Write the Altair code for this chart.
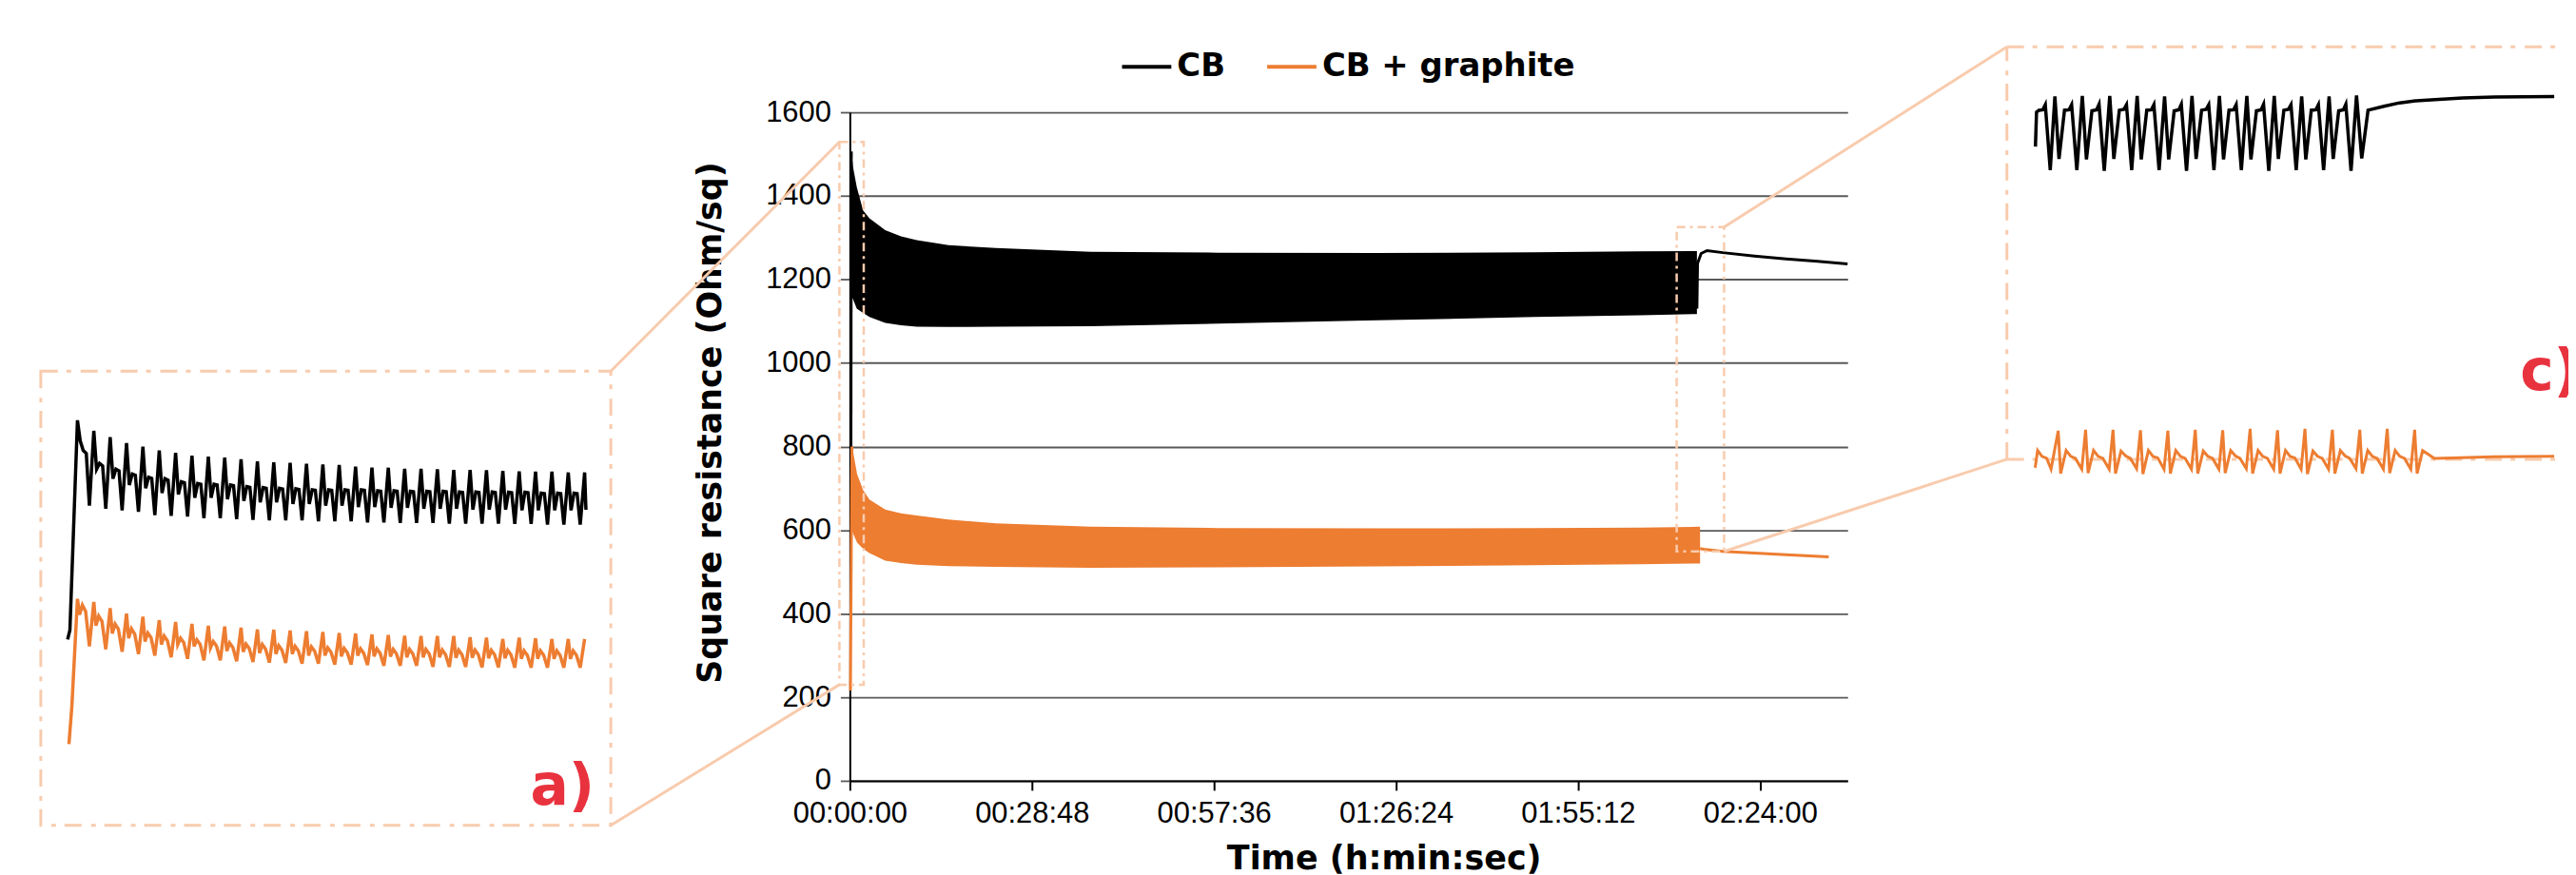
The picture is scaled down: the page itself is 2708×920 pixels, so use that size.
import altair as alt
import pandas as pd

SERIES = ["CB", "CB + graphite"]
COLORS = ["#000000", "#ED7D31"]
PEACH = "#F8CBAD"
RED = "#E8333F"

# ---------------- main chart (time in s, square resistance in Ohm/sq) ----------------
X_TICKS = [0, 1728, 3456, 5184, 6912, 8640]
Y_TICKS = [0, 200, 400, 600, 800, 1000, 1200, 1400, 1600]
X_MAX = 9470

# envelope of the dense oscillation (upper / lower edge of the filled band)
cb_band_t = [15, 30, 66, 126, 186, 336, 486, 636, 936, 1386, 2286, 3500, 5000, 6500, 7500, 8040]
cb_band_hi = [1506, 1470, 1421, 1365, 1346, 1318, 1303, 1294, 1282, 1275, 1266, 1264, 1263, 1265, 1267, 1268]
cb_band_lo = [1160, 1153, 1130, 1120, 1110, 1096, 1090, 1087, 1086, 1087, 1088, 1094, 1102, 1110, 1114, 1117]

gr_band_t = [20, 30, 69, 126, 186, 336, 486, 636, 936, 1386, 2286, 3500, 5000, 6500, 7500, 8070]
gr_band_hi = [800, 790, 734, 696, 673, 649, 640, 635, 625, 616, 608, 605, 604, 605, 606, 608]
gr_band_lo = [600, 592, 570, 555, 545, 527, 521, 517, 514, 512, 510, 511, 513, 516, 518, 520]

# single-valued parts (start and relaxation after cycling)
cb_start_t = [10, 14]
cb_start_v = [633, 1506]
cb_tail_t = [8040, 8046, 8080, 8136, 8286, 8586, 8886, 9186, 9470]
cb_tail_v = [1130, 1238, 1262, 1269, 1264, 1256, 1249, 1243, 1237]
gr_start_t = [6, 20]
gr_start_v = [216, 800]
gr_tail_t = [8070, 8106, 8286, 8586, 8886, 9291]
gr_tail_v = [556, 554, 549, 545, 541, 536]

# zoom windows drawn on the main chart
zoom_t0 = [-99, 7848]
zoom_t1 = [132, 8298]
zoom_v0 = [230, 549]
zoom_v1 = [1529, 1325]

# ---------------- inset a) : start of cycling (x = cycle number) ----------------
A_T = [-2.24, 32.6]      # time range shown in the inset
A_V = [-108, 1703]       # value range shown in the inset
cb_a_start_t = [-0.6, -0.46]
cb_a_start_v = [633, 671]
cb_a_peak = [1507, 1465, 1440, 1416, 1402, 1387, 1377, 1366, 1362, 1358, 1352, 1343, 1339, 1337, 1334, 1331,
             1329, 1322, 1318, 1318, 1314, 1314, 1312, 1309, 1309, 1308, 1305, 1303, 1302, 1302, 1299, 1299]
cb_a_dip = [1425, 1312, 1274, 1249, 1236, 1217, 1211, 1198, 1198, 1192, 1186, 1180, 1180, 1173, 1173, 1167,
            1167, 1161, 1161, 1158, 1158, 1154, 1154, 1154, 1151, 1151, 1151, 1148, 1148, 1148, 1148]
cb_a_sh1 = [1387, 1335, 1312, 1293, 1280, 1274, 1262, 1255, 1252, 1249, 1243, 1239, 1236, 1234, 1230, 1230,
            1230, 1230, 1226, 1226, 1224, 1224, 1224, 1221, 1221, 1221, 1220, 1220, 1217, 1217, 1217]
cb_a_sh2 = [1375, 1325, 1305, 1288, 1275, 1268, 1258, 1252, 1249, 1246, 1240, 1236, 1233, 1231, 1228, 1228,
            1228, 1228, 1224, 1224, 1222, 1222, 1222, 1219, 1219, 1219, 1218, 1218, 1215, 1215, 1215]
cb_a_valley = [1167, 1154, 1148, 1142, 1129, 1126, 1123, 1117, 1117, 1113, 1110, 1108, 1108, 1108, 1104, 1104,
               1104, 1100, 1100, 1098, 1098, 1098, 1095, 1095, 1095, 1095, 1094, 1094, 1091, 1091, 1091]
cb_a_end_t = [31.08]
cb_a_end_v = [1150]
cb_a_frac = [0.17, 0.35, 0.54, 0.73]

gr_a_start_t = [-0.52, -0.34]
gr_a_start_v = [216, 368]
gr_a_peak = [795, 783, 758, 736, 724, 710, 703, 695, 688, 685, 680, 673, 672, 669, 666, 663,
             659, 657, 653, 651, 648, 647, 647, 647, 642, 640, 635, 640, 638, 635, 635, 635]
gr_a_dip = [732, 688, 657, 638, 625, 613, 613, 606, 600, 587, 584, 579, 575, 575, 569, 569,
            566, 569, 566, 565, 562, 562, 562, 560, 560, 558, 558, 556, 556, 556, 556]
gr_a_bump = [770, 726, 695, 676, 659, 647, 638, 632, 625, 619, 615, 613, 609, 606, 604, 600,
             598, 596, 596, 594, 594, 594, 591, 591, 591, 590, 590, 588, 588, 588, 588]
gr_a_decl = [745, 705, 675, 655, 640, 628, 620, 614, 607, 601, 597, 595, 591, 588, 586, 582,
             580, 578, 578, 576, 576, 576, 573, 573, 573, 572, 572, 570, 570, 570, 570]
gr_a_valley = [606, 594, 584, 575, 569, 562, 556, 550, 550, 546, 543, 541, 540, 537, 537, 533,
               533, 531, 528, 528, 528, 524, 524, 524, 522, 522, 521, 521, 521, 521, 521]
gr_a_frac = [0.13, 0.3, 0.5, 0.73]

# ---------------- inset c) : end of cycling (x = cycle number) ----------------
C_T = [-1.75, 18.45]
C_V = [529, 1368]
cb_c_start_t = [-0.71, -0.67, -0.58, -0.44, -0.35, -0.17]
cb_c_start_v = [1165, 1235, 1239, 1240, 1250, 1117]
cb_c_peak = [1267, 1268, 1268, 1268, 1267, 1268, 1268, 1268, 1268, 1267, 1267, 1269]
cb_c_dip = [1140, 1139, 1140, 1139, 1139, 1140, 1139, 1139, 1140, 1139, 1140]
cb_c_sh1 = [1239, 1238, 1239, 1239, 1238, 1239, 1239, 1238, 1239, 1239, 1238]
cb_c_sh2 = [1240, 1240, 1241, 1240, 1240, 1241, 1240, 1240, 1241, 1240, 1240]
cb_c_bump = [1250, 1251, 1250, 1250, 1251, 1250, 1250, 1251, 1250, 1250, 1251]
cb_c_valley = [1117, 1116, 1117, 1117, 1116, 1117, 1117, 1116, 1117, 1117, 1116]
cb_c_frac = [0.15, 0.35, 0.52, 0.61, 0.80]
cb_c_tail_t = [11.19, 11.42, 12.0, 12.57, 13.15, 13.72, 14.87, 16.03, 18.21]
cb_c_tail_v = [1141, 1239, 1247, 1254, 1258, 1260, 1264, 1266, 1267]

gr_c_start_t = [-0.72, -0.63, -0.47, -0.3, -0.14]
gr_c_start_v = [512, 547, 535, 531, 509]
gr_c_peak = [587, 589, 589, 588, 587, 589, 588, 591, 588, 591, 589, 589, 591, 589]
gr_c_valley = [500, 501, 500, 499, 500, 500, 501, 500, 500, 499, 500, 500, 501]
gr_c_bump = [547, 547, 546, 547, 547, 546, 547, 547, 547, 546, 547, 547, 547]
gr_c_decl1 = [535, 535, 536, 535, 535, 535, 536, 535, 535, 535, 536, 535, 535]
gr_c_decl2 = [531, 531, 531, 532, 531, 531, 531, 531, 532, 531, 531, 531, 531]
gr_c_low = [509, 509, 510, 509, 509, 509, 510, 509, 509, 509, 510, 509, 509]
gr_c_frac = [0.09, 0.29, 0.46, 0.63, 0.86]
gr_c_phase = 0.12
gr_c_tail_t = [13.21, 13.41, 13.84, 14.5, 16.0, 18.21]
gr_c_tail_v = [500, 547, 531, 532, 534, 535]

# ---------------- layout (pixels, relative to the main plot area) ----------------
W, H = 1052, 705
A_BOX = (-853, -252, 273, 752)      # left, right, top, bottom of inset a
C_BOX = (1220, 1804, -69, 366)      # left, right, top, bottom of inset c


def cycles(peaks, parts, fracs, phase=0.0):
    ts, vs = [], []
    for k, p in enumerate(peaks):
        ts.append(k + phase)
        vs.append(p)
        if k < len(parts[0]):
            for arr, f in zip(parts, fracs):
                ts.append(k + phase + f)
                vs.append(arr[k])
    return ts, vs


def series_df(t_lists, v_lists):
    t, v = [], []
    for a, b in zip(t_lists, v_lists):
        t += list(a)
        v += list(b)
    return pd.DataFrame({"t": t, "v": v})


def placed(a, b, pa, pb, length):
    """Scale domain so that data a->pixel pa and b->pixel pb on a range [0, length]."""
    k = (b - a) / (pb - pa)
    d0 = a - pa * k
    return [d0, d0 + length * k]


# ---------------- main chart ----------------
xs = alt.Scale(domain=[0, X_MAX], nice=False, zero=False)
ys = alt.Scale(domain=[0, 1600], nice=False, zero=False)
x_axis = alt.Axis(values=X_TICKS, labelExpr="utcFormat(datum.value * 1000, '%H:%M:%S')",
                  title="Time (h:min:sec)", grid=False, domainColor="black", domainWidth=2,
                  tickColor="black", tickWidth=2, tickSize=10, labelFont="Liberation Sans",
                  labelFontSize=31, labelColor="black", labelPadding=10, labelFlush=False,
                  labelOverlap=False, titleFont="DejaVu Sans", titleFontSize=35,
                  titleFontWeight="bold", titleColor="black", titleX=563, titleY=93,
                  titleBaseline="alphabetic", titleAlign="center")
y_axis = alt.Axis(values=Y_TICKS, format="d", title="Square resistance (Ohm/sq)", grid=True,
                  gridColor="#595959", gridWidth=1.8, domainColor="black", domainWidth=2,
                  tickColor="#595959", tickWidth=1.8, tickSize=10, labelFont="Liberation Sans",
                  labelFontSize=31, labelColor="black", labelPadding=10,
                  titleFont="DejaVu Sans", titleFontSize=35, titleFontWeight="bold",
                  titleColor="black", titleX=-136, titleY=327, titleAngle=270,
                  titleBaseline="alphabetic", titleAlign="center")
color_enc = alt.Color("s:N", scale=alt.Scale(domain=SERIES, range=COLORS),
                      legend=alt.Legend(orient="none", legendX=285, legendY=-76,
                                        direction="horizontal", title=None,
                                        symbolType="stroke", symbolSize=2700,
                                        symbolStrokeWidth=4, labelFont="DejaVu Sans",
                                        labelFontWeight="bold", labelFontSize=34,
                                        labelColor="black", labelOffset=4, labelLimit=600,
                                        columnPadding=36))

band_df = pd.DataFrame({
    "t": cb_band_t + gr_band_t,
    "hi": cb_band_hi + gr_band_hi,
    "lo": cb_band_lo + gr_band_lo,
    "s": [SERIES[0]] * len(cb_band_t) + [SERIES[1]] * len(gr_band_t),
})
line_parts = [
    (cb_start_t, cb_start_v, SERIES[0], "cb0"),
    (cb_tail_t, cb_tail_v, SERIES[0], "cb1"),
    (gr_start_t, gr_start_v, SERIES[1], "gr0"),
    (gr_tail_t, gr_tail_v, SERIES[1], "gr1"),
]
rows = []
for ts, vs, s, seg in line_parts:
    for t, v in zip(ts, vs):
        rows.append({"t": t, "v": v, "s": s, "seg": seg})
line_df = pd.DataFrame(rows)
box_df = pd.DataFrame({"t0": zoom_t0, "t1": zoom_t1, "v0": zoom_v0, "v1": zoom_v1})

band = alt.Chart(band_df).mark_area(opacity=1).encode(
    x=alt.X("t:Q", scale=xs, axis=x_axis),
    y=alt.Y("hi:Q", scale=ys, axis=y_axis),
    y2="lo:Q",
    color=color_enc,
)
lines = alt.Chart(line_df).mark_line(strokeWidth=3).encode(
    x=alt.X("t:Q", scale=xs, axis=None),
    y=alt.Y("v:Q", scale=ys, axis=None),
    color=color_enc,
    detail="seg:N",
)
boxes = alt.Chart(box_df).mark_rect(fillOpacity=0, stroke=PEACH, strokeWidth=2.5,
                                    strokeDash=[9, 5, 3, 5]).encode(
    x=alt.X("t0:Q", scale=xs, axis=None),
    x2="t1:Q",
    y=alt.Y("v0:Q", scale=ys, axis=None),
    y2="v1:Q",
)

# connector lines: from zoom-window corners (data) to inset corners (pixels)
conn_t = [-99, -99, 8298, 8298]
conn_v = [1529, 230, 1325, 549]
conn_end = [(A_BOX[1], A_BOX[2]), (A_BOX[1], A_BOX[3]), (C_BOX[0], C_BOX[2]), (C_BOX[0], C_BOX[3])]
conns = []
for t, v, (px, py) in zip(conn_t, conn_v, conn_end):
    conns.append(
        alt.Chart(pd.DataFrame({"t": [t], "v": [v]})).mark_rule(color=PEACH, strokeWidth=3).encode(
            x=alt.X("t:Q", scale=xs, axis=None),
            y=alt.Y("v:Q", scale=ys, axis=None),
            x2=alt.value(px),
            y2=alt.value(py),
        )
    )

# ---------------- inset a ----------------
ta, va = cycles(cb_a_peak, [cb_a_dip, cb_a_sh1, cb_a_sh2, cb_a_valley], cb_a_frac)
dfA_cb = series_df([cb_a_start_t, ta, cb_a_end_t], [cb_a_start_v, va, cb_a_end_v])
tg, vg = cycles(gr_a_peak, [gr_a_dip, gr_a_bump, gr_a_decl, gr_a_valley], gr_a_frac)
dfA_gr = series_df([gr_a_start_t, tg], [gr_a_start_v, vg])

sxA = alt.Scale(domain=placed(A_T[0], A_T[1], A_BOX[0], A_BOX[1], W), nice=False, zero=False)
syA = alt.Scale(domain=placed(A_V[0], A_V[1], H - A_BOX[3], H - A_BOX[2], H), nice=False, zero=False)
lA_cb = alt.Chart(dfA_cb).mark_line(color=COLORS[0], strokeWidth=3.5).encode(
    x=alt.X("t:Q", scale=sxA, axis=None), y=alt.Y("v:Q", scale=syA, axis=None))
lA_gr = alt.Chart(dfA_gr).mark_line(color=COLORS[1], strokeWidth=3.5).encode(
    x=alt.X("t:Q", scale=sxA, axis=None), y=alt.Y("v:Q", scale=syA, axis=None))
frameA = alt.Chart(pd.DataFrame({"t0": [A_T[0]], "t1": [A_T[1]], "v0": [A_V[0]], "v1": [A_V[1]]})).mark_rect(
    fillOpacity=0, stroke=PEACH, strokeWidth=3, strokeDash=[18, 9, 5, 10]).encode(
    x=alt.X("t0:Q", scale=sxA, axis=None), x2="t1:Q",
    y=alt.Y("v0:Q", scale=syA, axis=None), y2="v1:Q")
tA = alt.Chart(pd.DataFrame({"lab": ["a)"]})).mark_text(
    font="DejaVu Sans", fontWeight="bold", fontSize=60, color=RED, align="right",
    baseline="alphabetic").encode(text="lab:N", x=alt.value(-269), y=alt.value(730))

# ---------------- inset c ----------------
tc, vc = cycles(cb_c_peak, [cb_c_dip, cb_c_sh1, cb_c_sh2, cb_c_bump, cb_c_valley], cb_c_frac)
dfC_cb = series_df([cb_c_start_t, tc, cb_c_tail_t], [cb_c_start_v, vc, cb_c_tail_v])
tgc, vgc = cycles(gr_c_peak, [gr_c_valley, gr_c_bump, gr_c_decl1, gr_c_decl2, gr_c_low],
                  gr_c_frac, gr_c_phase)
dfC_gr = series_df([gr_c_start_t, tgc, gr_c_tail_t], [gr_c_start_v, vgc, gr_c_tail_v])

sxC = alt.Scale(domain=placed(C_T[0], C_T[1], C_BOX[0], C_BOX[1], W), nice=False, zero=False)
syC = alt.Scale(domain=placed(C_V[0], C_V[1], H - C_BOX[3], H - C_BOX[2], H), nice=False, zero=False)
lC_cb = alt.Chart(dfC_cb).mark_line(color=COLORS[0], strokeWidth=3.5).encode(
    x=alt.X("t:Q", scale=sxC, axis=None), y=alt.Y("v:Q", scale=syC, axis=None))
lC_gr = alt.Chart(dfC_gr).mark_line(color=COLORS[1], strokeWidth=3).encode(
    x=alt.X("t:Q", scale=sxC, axis=None), y=alt.Y("v:Q", scale=syC, axis=None))
# frame of inset c: top, left and bottom sides (the right side lies beyond the picture)
frameC_df = pd.DataFrame({
    "t0": [C_T[0], C_T[0], C_T[0]], "t1": [C_T[1], C_T[0], C_T[1]],
    "v0": [C_V[1], C_V[0], C_V[0]], "v1": [C_V[1], C_V[1], C_V[0]],
})
frameC = alt.Chart(frameC_df).mark_rule(color=PEACH, strokeWidth=3, strokeDash=[18, 9, 5, 10]).encode(
    x=alt.X("t0:Q", scale=sxC, axis=None), x2="t1:Q",
    y=alt.Y("v0:Q", scale=syC, axis=None), y2="v1:Q")
tC = alt.Chart(pd.DataFrame({"lab": ["c)"]})).mark_text(
    font="DejaVu Sans", fontWeight="bold", fontSize=60, color=RED, align="left",
    baseline="alphabetic").encode(text="lab:N", x=alt.value(1761), y=alt.value(293))

chart = alt.layer(
    band, lines, boxes, *conns,
    frameA, lA_cb, lA_gr, tA,
    frameC, lC_cb, lC_gr, tC,
).resolve_scale(x="independent", y="independent").properties(
    width=W, height=H,
    autosize=alt.AutoSizeParams(type="none"),
    padding={"left": 888, "top": 109, "right": 760, "bottom": 98},
    background="white",
).configure_view(strokeWidth=0)

chart.save("out.html", embed_options={"renderer": "svg", "actions": False})
